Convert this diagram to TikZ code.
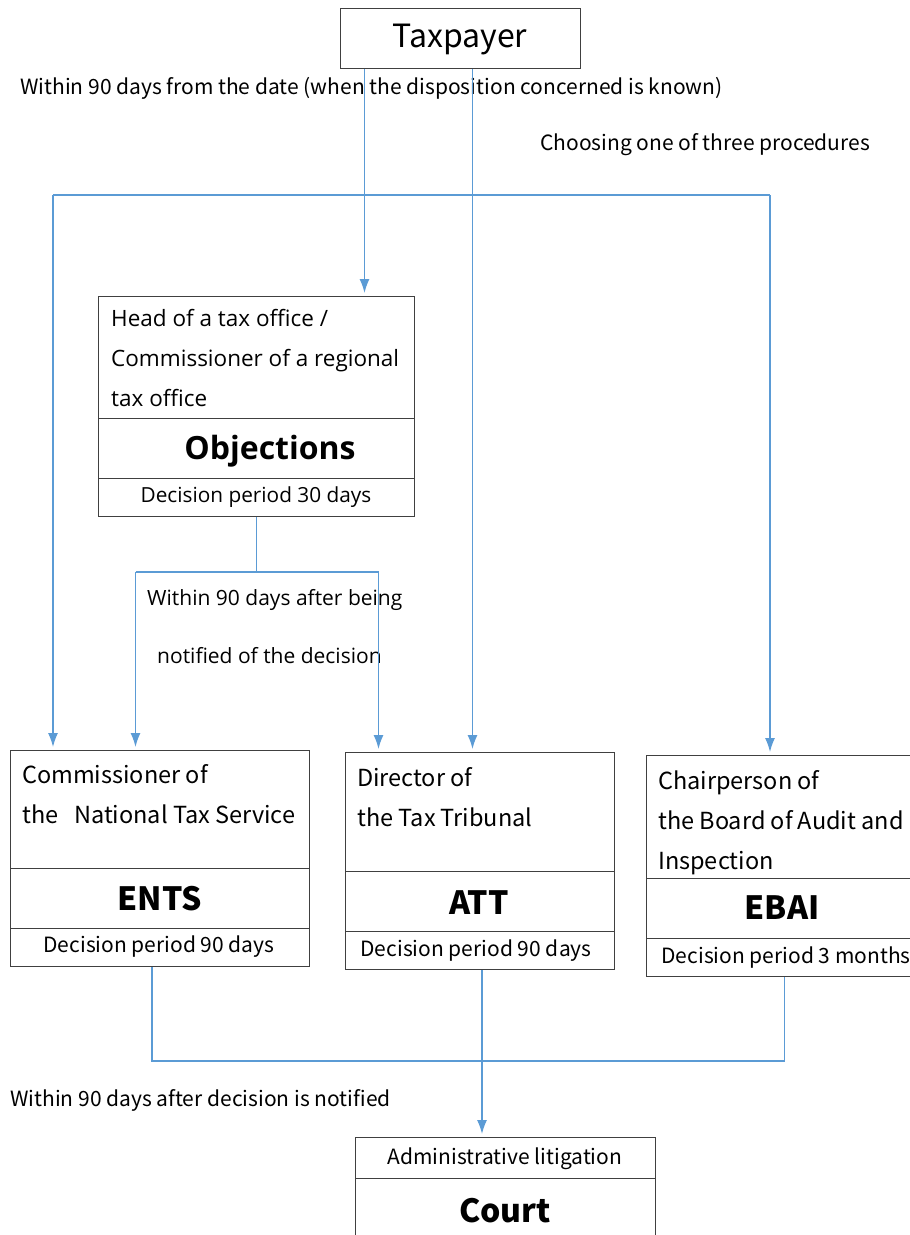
\documentclass[tikz,border=0pt]{standalone}
\usepackage{fontspec}
\setmainfont{Open Sans}
\newfontfamily\labelfont{Noto Sans CJK KR}
\usetikzlibrary{arrows.meta}
\definecolor{flowblue}{HTML}{5B9BD5}
\definecolor{boxgray}{HTML}{404040}

\begin{document}
\begin{tikzpicture}[x=1pt,y=-1pt,
	cell/.style={draw=boxgray, line width=1pt, anchor=north west, inner sep=0pt},
	flow/.style={draw=flowblue, line width=1.3pt, -{Latex[length=14pt,width=10pt]}, shorten >=3pt},
	link/.style={draw=flowblue, line width=1.3pt},
	headtext/.style={anchor=north west, align=left, inner sep=0pt},
	widefont/.style={font=\fontsize{22.5}{40}\selectfont},
	narrowfont/.style={font=\labelfont\fontsize{23.5}{40}\selectfont},
	title/.style={font=\labelfont\bfseries\fontsize{32}{36}\selectfont},
	period/.style={font=\labelfont\fontsize{21}{24}\selectfont},
	note/.style={anchor=west, inner sep=0pt, font=\labelfont\fontsize{21}{24}\selectfont}]

		\useasboundingbox (0,0) rectangle (910,1235);

		\node[cell, minimum width=240, minimum height=60] (taxpayer) at (340,8) {};
		\node[font=\labelfont\fontsize{32}{36}\selectfont] (taxpayertext) at (460,40) {Taxpayer};

		\node[note] (knownnote) at (20,88) {Within 90 days from the date (when the disposition concerned is known)};
		\node[note] (choosenote) at (540,145) {Choosing one of three procedures};

		\node[cell, minimum width=316, minimum height=122] (objhead) at (98,296) {};
		\node[cell, minimum width=316, minimum height=60] (objmid) at (98,418) {};
		\node[cell, minimum width=316, minimum height=38] (objlow) at (98,478) {};
		\node[headtext, widefont] (objheadtext) at (111,309) {Head of a tax office /\\Commissioner of a regional\\tax office};
		\node[font=\bfseries\fontsize{32}{36}\selectfont] (objtitle) at (270,451) {Objections};
		\node[font=\fontsize{20.8}{22}\selectfont] (objperiod) at (256,497) {Decision period 30 days};

		\node[note, font=\fontsize{21}{22}\selectfont] (notifynote) at (147,600) {Within 90 days after being};
		\node[note, font=\fontsize{21}{22}\selectfont] (notifynoteb) at (157,656) {notified of the decision};

		\node[cell, minimum width=299, minimum height=118] (entshead) at (10,750) {};
		\node[cell, minimum width=299, minimum height=60] (entsmid) at (10,868) {};
		\node[cell, minimum width=299, minimum height=38] (entslow) at (10,928) {};
		\node[headtext, narrowfont] (entsheadtext) at (22,764) {Commissioner of\\the\ \ \ National Tax Service};
		\node[title] (entstitle) at (160,899) {ENTS};
		\node[period] (entsperiod) at (159,947) {Decision period 90 days};

		\node[cell, minimum width=269, minimum height=119] (atthead) at (345,752) {};
		\node[cell, minimum width=269, minimum height=60] (attmid) at (345,871) {};
		\node[cell, minimum width=269, minimum height=38] (attlow) at (345,931) {};
		\node[headtext, narrowfont] (attheadtext) at (357,767) {Director of\\the Tax Tribunal};
		\node[title] (atttitle) at (479,903) {ATT};
		\node[period, anchor=west] (attperiod) at (357,951) {Decision period 90 days};

		\node[cell, minimum width=290, minimum height=123] (ebaihead) at (646,755) {};
		\node[cell, minimum width=290, minimum height=60] (ebaimid) at (646,878) {};
		\node[cell, minimum width=290, minimum height=38] (ebailow) at (646,938) {};
		\node[headtext, narrowfont] (ebaiheadtext) at (658,770) {Chairperson of\\the Board of Audit and\\Inspection};
		\node[title] (ebaititle) at (782,908) {EBAI};
		\node[period, anchor=west] (ebaiperiod) at (658,958) {Decision period 3 months};

		\node[note] (courtnote) at (10,1100) {Within 90 days after decision is notified};

		\node[cell, minimum width=300, minimum height=41] (courthead) at (355,1137) {};
		\node[cell, minimum width=300, minimum height=80] (courtmain) at (355,1178) {};
		\node[period] (courthtext) at (505,1159) {Administrative litigation};
		\node[title] (courttitle) at (505,1211) {Court};

		\draw[flow] ([xshift=-96]taxpayer.south) -- ([xshift=-96]taxpayer.south |- objhead.north);
		\draw[flow] ([xshift=12]taxpayer.south) -- ([xshift=12]taxpayer.south |- atthead.north);

		\coordinate (forkl) at (53,195);
		\coordinate (forkr) at (770,195);
		\draw[link] (forkl) -- (forkr);
		\draw[flow] (forkl) -- (forkl |- entshead.north);
		\draw[flow] (forkr) -- (forkr |- ebaihead.north);

		\draw[link] (objlow.south) -- ++(0,55) coordinate (objfork);
		\draw[link] ([xshift=-121]objfork) -- ([xshift=122]objfork);
		\draw[flow] ([xshift=-121]objfork) -- ([xshift=-121]objfork |- entshead.north);
		\draw[flow] ([xshift=122]objfork) -- ([xshift=122]objfork |- atthead.north);

		\path (attlow.south) ++(0,91) coordinate (merge);
		\draw[link] ([xshift=-8]entslow.south) |- (merge) -| ([xshift=-7]ebailow.south);
		\draw[flow] ([xshift=2]attlow.south) -- ([xshift=2]attlow.south |- courthead.north);

		\end{tikzpicture}
\end{document}
